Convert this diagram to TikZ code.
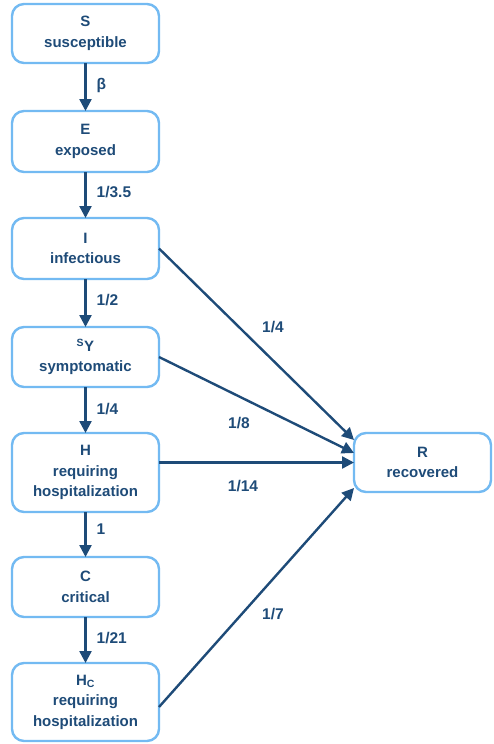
\documentclass[tikz,border=0pt]{standalone}
\usepackage{fontspec}
\setmainfont{Liberation Sans}
\usetikzlibrary{arrows.meta}
\definecolor{boxline}{RGB}{115,186,242}
\definecolor{darkblue}{RGB}{30,75,120}
\tikzset{
  statebox/.style={draw=boxline, line width=2.4pt, rounded corners=12pt, fill=white,
    minimum width=147pt, align=center, text=darkblue, inner sep=2pt, outer sep=0pt,
    font=\fontsize{15}{20.5}\selectfont\bfseries},
  flow/.style={draw=darkblue, line width=2.4pt, -{Triangle[length=12pt,width=12pt]}, shorten >=0pt},
  ratelbl/.style={text=darkblue, inner sep=0pt, font=\fontsize{15.5}{18}\selectfont\bfseries},
}
\begin{document}
\begin{tikzpicture}[x=1pt,y=1pt]
\useasboundingbox (0,0) rectangle (493,-744);
\node[statebox, minimum height=59pt] (S) at (85.5,-33.5) {S\\susceptible};
\node[statebox, minimum height=61pt] (E) at (85.5,-141.5) {E\\exposed};
\node[statebox, minimum height=61pt] (I) at (85.5,-248.5) {I\\infectious};
\node[statebox, minimum height=60pt] (SY) at (85.5,-357) {\textsuperscript{S}Y\\symptomatic};
\node[statebox, minimum height=79pt] (H) at (85.5,-472.5) {H\\requiring\\hospitalization};
\node[statebox, minimum height=60pt] (C) at (85.5,-587) {C\\critical};
\node[statebox, minimum height=78pt] (HC) at (85.5,-702) {H\textsubscript{C}\\requiring\\hospitalization};
\node[statebox, minimum width=137pt, minimum height=59pt] (R) at (422.5,-462.5) {R\\recovered};

\coordinate (rI) at ([yshift=22.5pt]R.west);
\coordinate (rSY) at ([yshift=9.5pt]R.west);
\coordinate (rHC) at ([yshift=-25.5pt]R.west);
\coordinate (hHC) at ([yshift=-5pt]HC.east);

\draw[flow] (S) -- node[ratelbl, anchor=west, xshift=10pt, yshift=2pt] {β} (E);
\draw[flow] (E) -- node[ratelbl, anchor=west, xshift=10pt, yshift=3pt] {1/3.5} (I);
\draw[flow] (I) -- node[ratelbl, anchor=west, xshift=10pt, yshift=3pt] {1/2} (SY);
\draw[flow] (SY) -- node[ratelbl, anchor=west, xshift=10pt, yshift=1pt] {1/4} (H);
\draw[flow] (H) -- node[ratelbl, anchor=west, xshift=10pt, yshift=5pt] {1} (C);
\draw[flow] (C) -- node[ratelbl, anchor=west, xshift=10pt, yshift=2pt] {1/21} (HC);

\draw[flow] (I.east) -- (rI);
\draw[flow] (SY.east) -- (rSY);
\draw[flow] (H.east |- R.west) -- (R.west);
\draw[flow] (hHC) -- (rHC);

\node[ratelbl] (l1) at (273,-327) {1/4};
\node[ratelbl] (l2) at (239,-423) {1/8};
\node[ratelbl] (l3) at (243,-486) {1/14};
\node[ratelbl] (l4) at (273,-614) {1/7};
\end{tikzpicture}
\end{document}
